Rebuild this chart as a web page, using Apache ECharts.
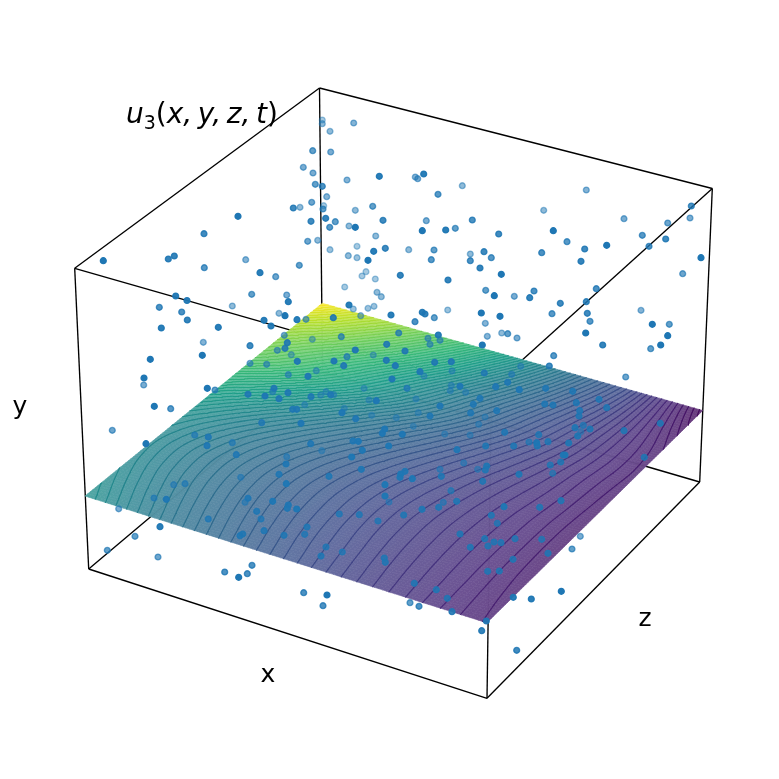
<!DOCTYPE html>
<html>
<head>
<meta charset="utf-8">
<style>
  html, body { margin: 0; padding: 0; background: #fff; }
  #chart { width: 779px; height: 779px; }
</style>
<script src="https://cdn.jsdelivr.net/npm/echarts@6/dist/echarts.min.js"></script>
</head>
<body>
<div id="chart"></div>
<script>
// everything is read in the picture plane of the projected 3D box
const planeMax = 779

const boxX = [74.7, 319.5, 712.3, 491.5, 88.7, 322.5, 699.7, 487]
const boxY = [268.3, 88, 188.5, 387.7, 569, 372, 482, 698.3]
const edgeFrom = [0, 1, 2, 3, 4, 5, 6, 7, 0, 1, 2, 3]
const edgeTo = [1, 2, 3, 0, 5, 6, 7, 4, 4, 5, 6, 7]

// surface corners: left, front, right, back
const surfaceX = [85, 486.8, 702.8, 322.3]
const surfaceY = [496, 622.8, 410.5, 303.3]

const surfaceRows = [
  [0.500, 0.447, 0.397, 0.349, 0.303, 0.260, 0.219, 0.181, 0.145, 0.111, 0.083],
  [0.478, 0.428, 0.381, 0.335, 0.292, 0.251, 0.213, 0.176, 0.142, 0.110, 0.078],
  [0.463, 0.415, 0.370, 0.326, 0.285, 0.246, 0.208, 0.173, 0.140, 0.109, 0.074],
  [0.463, 0.415, 0.370, 0.326, 0.285, 0.246, 0.208, 0.173, 0.140, 0.109, 0.072],
  [0.489, 0.438, 0.389, 0.342, 0.298, 0.256, 0.216, 0.179, 0.143, 0.110, 0.072],
  [0.552, 0.492, 0.435, 0.380, 0.329, 0.280, 0.234, 0.191, 0.151, 0.114, 0.074],
  [0.641, 0.579, 0.511, 0.443, 0.379, 0.320, 0.264, 0.212, 0.164, 0.118, 0.077],
  [0.742, 0.678, 0.605, 0.527, 0.447, 0.373, 0.303, 0.239, 0.181, 0.125, 0.079],
  [0.815, 0.750, 0.679, 0.597, 0.508, 0.419, 0.338, 0.263, 0.195, 0.128, 0.072],
  [0.895, 0.833, 0.761, 0.681, 0.587, 0.483, 0.385, 0.295, 0.214, 0.128, 0.050],
  [1.000, 0.915, 0.842, 0.761, 0.668, 0.558, 0.440, 0.332, 0.236, 0.125, 0.020],
]
const contourCount = 70

const viridisStops = ['#440154', '#482878', '#3e4a89', '#31688e', '#26828e', '#1f9e89', '#35b779', '#6dcd59', '#b4de2c', '#fde725']

const pointX = [
  103.3, 168.3, 174.3, 204, 238, 204.3, 245.7, 260, 275.7, 251.7,
  286.7, 175.7, 187, 322.3, 322.3, 353.7, 330, 312.7, 330.7, 303.3,
  313, 347, 379.3, 415.3, 417.7, 423.7, 315.3, 322.3, 462.3, 438,
  326.7, 311.7, 323.7, 323, 293.3, 300, 372.7, 355.3, 325.7, 311,
  335.3, 383, 426.3, 472.3, 329.7, 349, 355.3, 422.3, 445.7, 455.3,
  498.7, 375.7, 307.7, 317.7, 357, 330, 385.3, 373.7, 408.7, 434,
  484, 470.3, 348.3, 357, 368, 431.3, 470.3, 491.3, 299.3, 480,
  366, 362, 400.3, 375.3, 501.3, 448, 344.7, 485.7, 377, 494.3,
  381.3, 586.3, 543.7, 624, 691.3, 690, 667.7, 553.3, 642.3, 567,
  665.7, 649, 606.7, 584.7, 541.7, 701, 581, 682.7, 596.3, 534,
  514.3, 529.7, 159.3, 181.7, 187.3, 161.3, 218.3, 232.3, 264, 271,
  279, 285, 288.3, 203.3, 250, 202.3, 150.3, 144, 143.7, 207.3,
  215, 154.3, 170.7, 112.3, 146, 284.3, 287.3, 285, 277.3, 250,
  266.7, 288.3, 274, 272.7, 248, 265, 279, 288, 261.7, 194.7,
  208.3, 207, 232.3, 236.3, 286.7, 286, 279, 240.7, 286.3, 185,
  173.7, 154, 166.3, 248, 245, 272.7, 118.7, 349, 353.3, 368,
  374, 297, 306, 333.3, 360.7, 391, 415, 422.3, 425, 434.3,
  447.7, 481.3, 500, 485.3, 487.3, 501.7, 507.7, 482.3, 438.3, 398.7,
  428, 430, 440, 341.3, 312.3, 386.7, 355.3, 405, 373.3, 347,
  386.3, 334, 343.7, 297.3, 291.3, 395.3, 434.7, 451.3, 420, 424,
  452, 484.3, 316.3, 308, 392, 507.7, 495.7, 460, 451.3, 450.3,
  407, 465.7, 364, 326, 320.7, 330.7, 333.7, 311, 480, 369,
  376.3, 416, 473.3, 304.7, 440, 344.3, 496.7, 292.7, 296.7, 342,
  418.3, 470.7, 371.7, 430, 396.3, 355.7, 485, 301, 478.7, 413.3,
  384.7, 382.3, 402.3, 444.7, 504.7, 470, 353, 358.3, 310.7, 388.7,
  485.7, 321.7, 362.3, 457, 351.7, 463.7, 486.7, 361.3, 477.7, 485.3,
  440, 405, 400.7, 400, 441.3, 329, 412.3, 482.7, 385, 451,
  385, 443.3, 456.7, 389, 504, 438.7, 296.7, 422, 560.3, 586.3,
  552, 587.3, 590, 641, 652.3, 669.3, 667.7, 585.7, 517, 602.7,
  660.7, 650.7, 553.7, 549.3, 625.7, 520.7, 511.7, 519.3, 545.7, 572.7,
  599, 576.3, 606.7, 544.7, 553, 579.7, 579, 660.3, 583.3, 575,
  590, 624, 538.7, 577.7, 580.7, 529, 536.7, 537.3, 548, 568.7,
  513.7, 563.3, 565, 644.3, 560.7, 550.3, 552.7, 519, 561, 539.7,
  160, 208.3, 135, 107.3, 158, 224.7, 238.7, 247.3, 252, 256.7,
  261, 264, 288.3, 287.3, 242.7, 240, 284, 339.3, 359.3, 403.7,
  491.3, 497.3, 378, 307, 304.7, 460, 326, 342.3, 321, 384.3,
  385.3, 484.7, 494, 501, 488, 470.3, 487.7, 499.3, 414.3, 436.3,
  447.3, 303.7, 327, 323, 410, 419, 452, 486.3, 481.7, 515,
  541.7, 580.3, 572, 548, 513, 513.3, 531.3, 561.3, 516.7,
]
const pointY = [
  260.7, 259, 256, 233.7, 216.3, 267.7, 259.7, 272.7, 276.7, 294.3,
  295, 296, 300.5, 120, 123.7, 123, 131.3, 150.7, 152, 167.3,
  173, 180, 176.3, 177, 178.7, 174, 184.3, 186.3, 185.7, 194.3,
  196.7, 202.3, 205.7, 209, 208, 207.3, 206.3, 210.3, 218.3, 221.3,
  221.7, 220.3, 220.7, 220, 227.3, 226, 227.3, 230.7, 230, 228.3,
  234, 236, 241.3, 240.3, 246.3, 249.7, 248.3, 251.3, 249.7, 250,
  251.7, 254, 255.7, 257.7, 260.3, 259.7, 260.7, 257.7, 265.3, 268,
  271.7, 276, 275.3, 279, 274.3, 280, 287, 290.3, 292.3, 295.7,
  296.7, 190, 210.3, 218.7, 206, 218, 223, 230.7, 235.3, 241.7,
  239, 246.3, 245.3, 249, 252.7, 257.7, 261.3, 273.7, 288.7, 291,
  296.3, 297.7, 307.3, 312, 320, 328, 327.3, 306, 320.3, 326,
  313.3, 315.7, 301.7, 342.3, 345.7, 355.3, 359.3, 378, 385, 388.3,
  390, 406.3, 408.7, 430.3, 443.7, 335.3, 342.7, 348.3, 350.3, 363.3,
  364.3, 374.7, 388.3, 391.7, 394.3, 396, 398.7, 392.7, 422.7, 435,
  437, 445.7, 442.7, 454.7, 456.7, 464, 474.3, 477.3, 483.7, 483.7,
  484.7, 498, 499.3, 498.3, 502.3, 501.3, 508.8, 305, 309, 308.3,
  306.3, 319.7, 319.3, 317.7, 315.7, 315, 321.7, 312.3, 314, 317.7,
  310, 313, 316.3, 323.3, 336.3, 333, 333.7, 345, 335, 333,
  338.3, 344.3, 340.3, 336.7, 339.3, 344.3, 350, 351, 355, 356.7,
  360.3, 361, 365.7, 361.3, 354.7, 365.7, 362.3, 361.7, 371.7, 376,
  371, 373, 370.7, 376.3, 379, 382.3, 386.7, 386.3, 385.3, 390.7,
  388.3, 392.3, 388.3, 391.7, 395, 394.7, 394.7, 396.7, 398.3, 400,
  400.7, 399, 404.3, 404.7, 406, 408.3, 410.7, 409.3, 409.3, 412.7,
  412.7, 413, 415.3, 416, 417.7, 418.7, 417, 423.3, 424.3, 426.3,
  429, 433.3, 434.3, 434, 432.3, 435, 441, 441.3, 443.7, 446,
  446, 450.7, 450.3, 449.7, 457, 463, 466, 469.3, 469.3, 470,
  469.3, 471.3, 474, 477.3, 476.3, 476.3, 478.7, 481.3, 484.7, 490.7,
  496, 502.3, 501.3, 502, 506.7, 507.3, 509, 509.3, 303.3, 301.7,
  313.7, 313.3, 321.3, 310.3, 324.3, 324.3, 335.7, 333, 338, 345,
  345, 348.7, 355.7, 366, 377, 366.3, 374.3, 389.7, 388.3, 391.3,
  399.3, 402.7, 407.7, 404, 405, 410.7, 416, 423.3, 425.3, 427.7,
  429, 430.7, 434.7, 436, 431.7, 442, 442.7, 446, 441.7, 443,
  446, 455, 455, 457.3, 462, 465, 473.3, 474.3, 500.7, 507.3,
  526.7, 519, 536.3, 550.3, 557, 572, 577.3, 573.7, 565.3, 511.3,
  519, 530.7, 505, 508.3, 534, 535.7, 535.3, 514, 514.7, 515,
  515.3, 523.3, 521, 527, 534.3, 534, 547, 552, 556, 558,
  562.3, 538.7, 542, 542.7, 546, 547.3, 571.3, 571, 583.3, 589.7,
  598.3, 592.7, 595, 605.7, 602.7, 606.3, 611.7, 621, 630.7, 538.7,
  539.3, 536.3, 549, 553.3, 559.3, 597.3, 599, 591.3, 650.3,
]
// depth shading of each dot, 1 is nearest
const pointDepth = [
  1, .9, .9, .85, 1, .75, .55, .95, .65, .7,
  .6, .95, .95, .4, .5, .55, .5, .7, .6, .6,
  .6, .55, .95, .55, .6, .95, .7, .8, .5, .75,
  .55, .65, .4, .7, .85, .5, .7, .5, .9, .85,
  .7, .85, .6, .8, .75, .5, 1, 1, .95, .7,
  .85, .5, .65, .5, .4, .45, .85, .95, .5, .7,
  .85, .5, .5, .45, 1, .75, .8, .75, .7, .9,
  .4, .4, .9, .4, 1, .9, .4, .7, .5, 1,
  .5, .55, .5, .6, .8, .6, .65, 1, .75, .75,
  .85, .8, 1, .85, .8, 1, .9, .65, .8, .8,
  .6, .9, .8, .8, .9, .95, .95, .5, .95, .95,
  .5, 1, .95, .55, .85, 1, 1, 1, .6, 1,
  .7, 1, .75, .65, 1, .6, .9, .85, .6, .6,
  .6, .6, .9, .6, .9, .95, .9, .9, .8, .7,
  .9, .9, .7, .85, .6, .9, .85, .6, .95, .7,
  .6, .7, .95, .9, .6, .95, .6, .95, .45, .45,
  .45, .95, .6, .9, .5, .95, .8, .95, .9, .7,
  .45, 1, 1, .55, .55, .5, .7, 1, .95, .75,
  .6, .6, .6, .7, .45, .9, .95, .9, .45, .7,
  .9, .95, .9, .95, .45, .95, .9, .9, .95, .45,
  .5, .8, .5, .95, .95, .9, .9, .95, .5, .5,
  .75, .5, .45, .5, .5, .85, .5, .85, .85, .45,
  .95, .45, .85, .45, .9, .45, .85, .85, .85, .95,
  .45, .85, .45, .85, .45, .9, .45, .95, .5, .45,
  .95, .95, .95, .5, .85, .5, .9, .95, .85, .95,
  .85, .5, .95, .9, .95, .6, .9, .9, .55, .85,
  .6, .9, .95, .95, .85, .85, .95, .85, .95, .7,
  .95, .65, .9, .55, .95, .85, .95, .9, .85, .85,
  .75, .85, .75, .55, 1, .7, 1, 1, .6, .9,
  1, .7, .75, .85, .65, .5, .6, .95, .85, .85,
  .85, .85, .85, .85, .85, .85, .85, .85, .75, .9,
  .85, .85, .8, .9, .5, .7, .95, .85, .85, .9,
  .85, .9, .9, .85, .85, .8, .7, .9, .85, .85,
  .95, .8, .7, .7, .65, .8, 1, .8, .8, .85,
  .8, .85, .9, .9, .85, .85, .85, .8, .8, .85,
  .85, .8, .8, .85, .8, .85, .8, .8, .85, .85,
  .85, .85, .85, .85, .85, .85, .85, .85, .85, .85,
  .85, .8, 1, .8, .7, .8, .9, .9, .9, .8,
  .8, .6, .7, .85, .85, .95, .95, 1, .85,
]

const fineCells = 100

function hexRgb(hex) {
  return [1, 3, 5].map((k) => parseInt(hex.slice(k, k + 2), 16))
}

function viridis(v) {
  const pos = Math.min(Math.max(v, 0), 1) * (viridisStops.length - 1)
  const k = Math.min(Math.floor(pos), viridisStops.length - 2)
  const a = hexRgb(viridisStops[k])
  const b = hexRgb(viridisStops[k + 1])
  return a.map((c, n) => c + (b[n] - c) * (pos - k))
}

function css(rgb) {
  return `rgb(${rgb.map((c) => Math.round(c)).join(',')})`
}

// smooth resampling of the table, only so that the painted cells do not look blocky
function catmull(p0, p1, p2, p3, f) {
  return 0.5 * (2 * p1 + (p2 - p0) * f + (2 * p0 - 5 * p1 + 4 * p2 - p3) * f * f + (3 * p1 - p0 - 3 * p2 + p3) * f * f * f)
}

function along(list, u) {
  const n = list.length - 1
  const pos = Math.min(u * n, n - 1e-9)
  const k = Math.floor(pos)
  const p1 = list[k]
  const p2 = list[k + 1]
  const p0 = k > 0 ? list[k - 1] : 2 * p1 - p2
  const p3 = k + 2 <= n ? list[k + 2] : 2 * p2 - p1
  return catmull(p0, p1, p2, p3, pos - k)
}

function sampleSurface(s, t) {
  return along(surfaceRows.map((row) => along(row, s)), t)
}

const fine = []
for (let j = 0; j <= fineCells; j++) {
  const row = []
  for (let i = 0; i <= fineCells; i++) row.push(sampleSurface(i / fineCells, j / fineCells))
  fine.push(row)
}

// square to quad perspective map for the tilted surface
const [x0, x1, x2, x3] = surfaceX
const [y0, y1, y2, y3] = surfaceY
const den = (x1 - x2) * (y3 - y2) - (x3 - x2) * (y1 - y2)
const sx = x0 - x1 + x2 - x3
const sy = y0 - y1 + y2 - y3
const g = (sx * (y3 - y2) - (x3 - x2) * sy) / den
const h = ((x1 - x2) * sy - sx * (y1 - y2)) / den

function project(s, t) {
  const w = g * s + h * t + 1
  return [
    ((x1 - x0 + g * x1) * s + (x3 - x0 + h * x3) * t + x0) / w,
    ((y1 - y0 + g * y1) * s + (y3 - y0 + h * y3) * t + y0) / w,
  ]
}

const cellData = []
for (let j = 0; j < fineCells; j++) {
  for (let i = 0; i < fineCells; i++) cellData.push([i, j])
}

const contourData = []
for (let j = 0; j < fineCells; j++) {
  for (let i = 0; i < fineCells; i++) {
    const a = fine[j][i]
    const b = fine[j][i + 1]
    const c = fine[j + 1][i + 1]
    const d = fine[j + 1][i]
    const corners = [[a, i, j], [b, i + 1, j], [c, i + 1, j + 1], [d, i, j + 1]]
    const lo = Math.min(a, b, c, d)
    const hi = Math.max(a, b, c, d)
    for (let k = Math.ceil(lo * contourCount); k <= Math.floor(hi * contourCount); k++) {
      const level = k / contourCount
      const cross = []
      for (let e = 0; e < 4; e++) {
        const p = corners[e]
        const q = corners[(e + 1) % 4]
        if ((p[0] < level) !== (q[0] < level)) {
          const f = (level - p[0]) / (q[0] - p[0])
          cross.push(project((p[1] + (q[1] - p[1]) * f) / fineCells, (p[2] + (q[2] - p[2]) * f) / fineCells))
        }
      }
      for (let n = 0; n + 1 < cross.length; n += 2) {
        contourData.push({ coords: [cross[n], cross[n + 1]], lineStyle: { color: css(viridis(level)) } })
      }
    }
  }
}

const boxEdges = edgeFrom.map((from, n) => {
  const to = edgeTo[n]
  return { coords: [[boxX[from], boxY[from]], [boxX[to], boxY[to]]] }
})

// part of a box edge that sits behind the see-through surface
function insideSurface(edge) {
  const [p, q] = edge.coords
  let lo = 0
  let hi = 1
  for (let n = 0; n < 4; n++) {
    const ax = surfaceX[n]
    const ay = surfaceY[n]
    const bx = surfaceX[(n + 1) % 4]
    const by = surfaceY[(n + 1) % 4]
    const num = (bx - ax) * (p[1] - ay) - (by - ay) * (p[0] - ax)
    const dir = (bx - ax) * (q[1] - p[1]) - (by - ay) * (q[0] - p[0])
    if (dir === 0) {
      if (num < 0) return null
    } else if (dir > 0) {
      lo = Math.max(lo, -num / dir)
    } else {
      hi = Math.min(hi, -num / dir)
    }
  }
  if (lo >= hi) return null
  return { coords: [lo, hi].map((f) => [p[0] + (q[0] - p[0]) * f, p[1] + (q[1] - p[1]) * f]) }
}

const hiddenEdges = boxEdges.map(insideSurface).filter(Boolean)
const pointData = pointX.map((x, n) => [x, pointY[n], pointDepth[n]])

const labelFont = { fontFamily: 'DejaVu Sans', fontSize: 25, fill: '#000', align: 'center', verticalAlign: 'middle' }

const myChart = echarts.init(document.getElementById('chart'), null, { renderer: 'canvas' })
myChart.setOption({
  animation: false,
  backgroundColor: '#fff',
  grid: { left: 0, right: 0, top: 0, bottom: 0 },
  xAxis: { type: 'value', min: 0, max: planeMax, show: false },
  yAxis: { type: 'value', min: 0, max: planeMax, inverse: true, show: false },
  visualMap: {
    show: false,
    seriesIndex: 4,
    dimension: 2,
    min: 0,
    max: 1,
    inRange: { opacity: [0, 1] },
  },
  graphic: [
    { type: 'text', x: 268, y: 675.5, silent: true, style: { ...labelFont, text: 'x' } },
    { type: 'text', x: 20, y: 407, silent: true, style: { ...labelFont, text: 'y' } },
    { type: 'text', x: 645, y: 619, silent: true, style: { ...labelFont, text: 'z' } },
    {
      type: 'text',
      x: 126,
      y: 116,
      silent: true,
      style: {
        text: '{i|u}{s|3}{n|(}{i|x,\u2009y,\u2009z,\u2009t}{n|)}',
        verticalAlign: 'middle',
        rich: {
          i: { fontFamily: 'DejaVu Sans', fontStyle: 'italic', fontSize: 28, lineHeight: 36, fill: '#000' },
          n: { fontFamily: 'DejaVu Sans', fontSize: 28, lineHeight: 36, fill: '#000' },
          s: { fontFamily: 'DejaVu Sans', fontSize: 19, lineHeight: 19, verticalAlign: 'bottom', fill: '#000' },
        },
      },
    },
  ],
  series: [
    {
      type: 'lines',
      coordinateSystem: 'cartesian2d',
      silent: true,
      z: 1,
      lineStyle: { color: '#000', width: 1.35, opacity: 1 },
      data: boxEdges,
    },
    {
      type: 'custom',
      coordinateSystem: 'cartesian2d',
      silent: true,
      z: 2,
      clip: false,
      progressive: 0,
      data: cellData,
      encode: { x: 0, y: 1 },
      renderItem(params, api) {
        const i = api.value(0)
        const j = api.value(1)
        const points = [[i, j], [i + 1, j], [i + 1, j + 1], [i, j + 1]].map(([a, b]) => api.coord(project(a / fineCells, b / fineCells)))
        const v = (fine[j][i] + fine[j][i + 1] + fine[j + 1][i] + fine[j + 1][i + 1]) / 4
        const color = css(viridis(v).map((c) => c * 0.8 + 255 * 0.2))
        return { type: 'polygon', shape: { points }, style: { fill: color, stroke: color, lineWidth: 0.6 } }
      },
    },
    {
      type: 'lines',
      coordinateSystem: 'cartesian2d',
      silent: true,
      z: 3,
      progressive: 0,
      lineStyle: { width: 1.1, opacity: 1, cap: 'round' },
      data: contourData,
    },
    {
      type: 'lines',
      coordinateSystem: 'cartesian2d',
      silent: true,
      z: 4,
      lineStyle: { color: '#000', width: 1.35, opacity: 0.35 },
      data: hiddenEdges,
    },
    {
      type: 'scatter',
      silent: true,
      z: 5,
      symbolSize: 5.8,
      itemStyle: { color: '#1f77b4', borderColor: '#1f77b4', borderWidth: 1.4, opacity: 1 },
      data: pointData,
    },
  ],
})
</script>
</body>
</html>
